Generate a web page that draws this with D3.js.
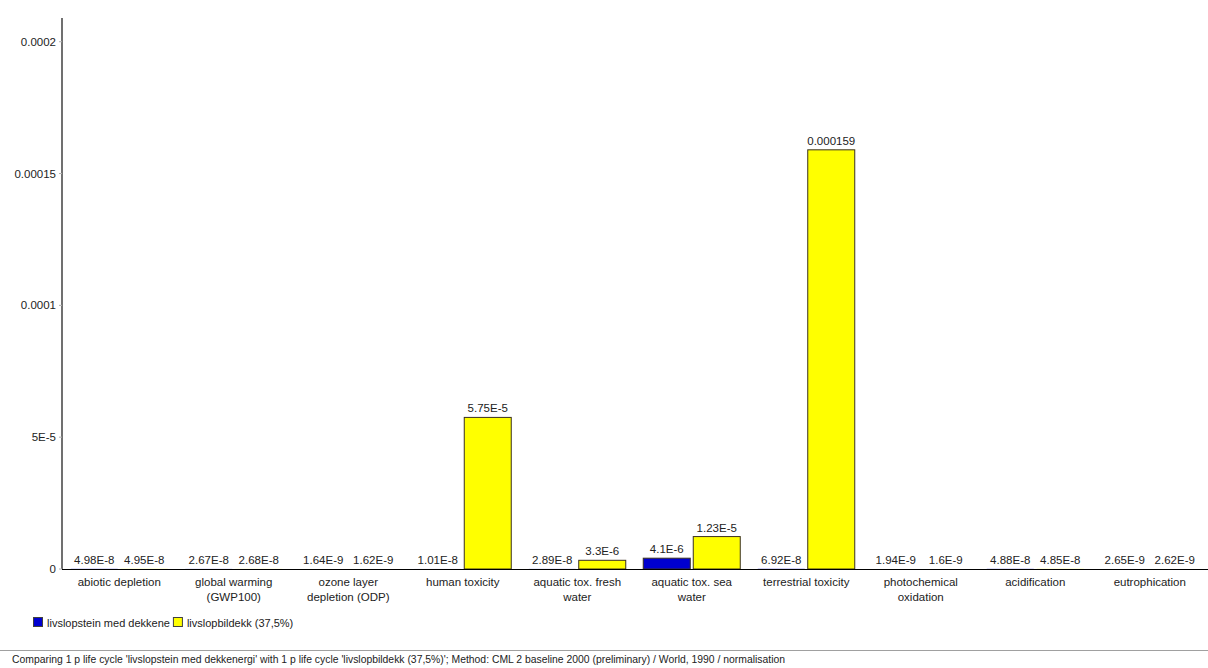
<!DOCTYPE html>
<html>
<head>
<meta charset="utf-8">
<script src="https://cdn.jsdelivr.net/npm/d3@7"></script>
<style>
  html, body { margin: 0; padding: 0; background: #fff; }
  svg { display: block; font-family: "Liberation Sans", Arial, sans-serif; }
</style>
</head>
<body>
<svg id="chart" width="1208" height="668"></svg>
<script>
// Impact categories (CML 2 baseline 2000, normalised)
const categories = [
  "abiotic depletion",
  "global warming\n(GWP100)",
  "ozone layer\ndepletion (ODP)",
  "human toxicity",
  "aquatic tox. fresh\nwater",
  "aquatic tox. sea\nwater",
  "terrestrial toxicity",
  "photochemical\noxidation",
  "acidification",
  "eutrophication"
];
const seriesNames = ["livslopstein med dekkene", "livslopbildekk (37,5%)"];
const steinValues = [4.98e-8, 2.67e-8, 1.64e-9, 1.01e-8, 2.89e-8, 4.1e-6, 6.92e-8, 1.94e-9, 4.88e-8, 2.65e-9];
const bildekkValues = [4.95e-8, 2.68e-8, 1.62e-9, 5.75e-5, 3.3e-6, 1.23e-5, 0.000159, 1.6e-9, 4.85e-8, 2.62e-9];
const yTicks = [0, 0.00005, 0.0001, 0.00015, 0.0002];
const yTickLabels = ["0", "5E-5", "0.0001", "0.00015", "0.0002"];
const colors = ["#0000d0", "#ffff00"];
const footerText = "Comparing 1 p life cycle 'livslopstein med dekkenergi' with 1 p life cycle 'livslopbildekk (37,5%)';  Method: CML 2 baseline 2000 (preliminary) /  World, 1990 / normalisation";

const svg = d3.select("#chart");
const W = 1208, H = 668;
const plot = { left: 62, right: 1207, top: 18, bottom: 569 };

const x = d3.scaleBand().domain(d3.range(categories.length)).range([plot.left, plot.right]).padding(0);
const xSub = d3.scaleBand().domain([0, 1]).range([0, x.bandwidth()]).paddingInner(0.06).paddingOuter(0.175);
const y = d3.scaleLinear().domain([0, 0.000209]).range([plot.bottom, plot.top]);

// value label formatting in the style "5.75E-5" / "0.000159"
function fmt(v) {
  if (v >= 1e-4) return String(+v.toPrecision(3));
  const [m, e] = v.toExponential(2).split("e");
  return String(+m) + "E" + (+e);
}

const rows = categories.map((c, i) => ({ i, vals: [steinValues[i], bildekkValues[i]] }));

// bars
const groups = svg.append("g").selectAll("g").data(rows).join("g")
  .attr("transform", d => `translate(${x(d.i)},0)`);

groups.selectAll("rect").data(d => d.vals.map((v, k) => ({ v, k }))).join("rect")
  .attr("x", d => xSub(d.k))
  .attr("width", xSub.bandwidth())
  .attr("y", d => y(d.v))
  .attr("height", d => Math.max(0, y(0) - y(d.v)))
  .attr("fill", d => colors[d.k])
  .attr("stroke", d => (y(0) - y(d.v)) > 1 ? "#3a3020" : "none")
  .attr("stroke-width", 1);

groups.selectAll("text.val").data(d => d.vals.map((v, k) => ({ v, k }))).join("text")
  .attr("class", "val")
  .attr("x", d => xSub(d.k) + xSub.bandwidth() / 2)
  .attr("y", d => y(d.v) - 5)
  .attr("text-anchor", "middle")
  .attr("font-size", 11.5)
  .attr("fill", "#222")
  .text(d => fmt(d.v));

// y axis
const yAxis = svg.append("g");
yAxis.append("line")
  .attr("x1", plot.left).attr("x2", plot.left)
  .attr("y1", plot.top).attr("y2", plot.bottom)
  .attr("stroke", "#707070").attr("stroke-width", 2);
yAxis.selectAll("line.tick").data(yTicks).join("line")
  .attr("class", "tick")
  .attr("x1", plot.left - 3).attr("x2", plot.left)
  .attr("y1", d => y(d)).attr("y2", d => y(d))
  .attr("stroke", "#b0b0b0");
yAxis.selectAll("text").data(yTicks).join("text")
  .attr("x", plot.left - 6)
  .attr("y", d => y(d))
  .attr("dy", "0.35em")
  .attr("text-anchor", "end")
  .attr("font-size", 11.5)
  .attr("fill", "#222")
  .text((d, i) => yTickLabels[i]);

// x axis
svg.append("line")
  .attr("x1", plot.left).attr("x2", W)
  .attr("y1", plot.bottom + 0.5).attr("y2", plot.bottom + 0.5)
  .attr("stroke", "#000").attr("stroke-width", 1);

const xl = svg.append("g").selectAll("text").data(categories).join("text")
  .attr("x", (d, i) => x(i) + x.bandwidth() / 2)
  .attr("y", plot.bottom + 17)
  .attr("text-anchor", "middle")
  .attr("font-size", 11.5)
  .attr("fill", "#222");
xl.each(function(d) {
  const t = d3.select(this);
  d.split("\n").forEach((line, j) => {
    t.append("tspan").attr("x", t.attr("x")).attr("dy", j === 0 ? 0 : 15).text(line);
  });
});

// legend
const legend = svg.append("g");
let lx = 33;
seriesNames.forEach((name, k) => {
  legend.append("rect")
    .attr("x", lx + 0.5).attr("y", 617.5)
    .attr("width", 9).attr("height", 9)
    .attr("fill", colors[k]).attr("stroke", "#404040");
  const t = legend.append("text")
    .attr("x", lx + 14).attr("y", 627)
    .attr("font-size", 11)
    .attr("fill", "#222")
    .text(name);
  lx = lx + 14 + t.node().getComputedTextLength() + 3;
});

// footer
svg.append("line")
  .attr("x1", 0).attr("x2", W)
  .attr("y1", 650.5).attr("y2", 650.5)
  .attr("stroke", "#a0a0a0");
svg.append("text")
  .attr("x", 12).attr("y", 663)
  .attr("font-size", 11)
  .attr("fill", "#222")
  .attr("textLength", 773)
  .attr("lengthAdjust", "spacingAndGlyphs")
  .text(footerText);
</script>
</body>
</html>
